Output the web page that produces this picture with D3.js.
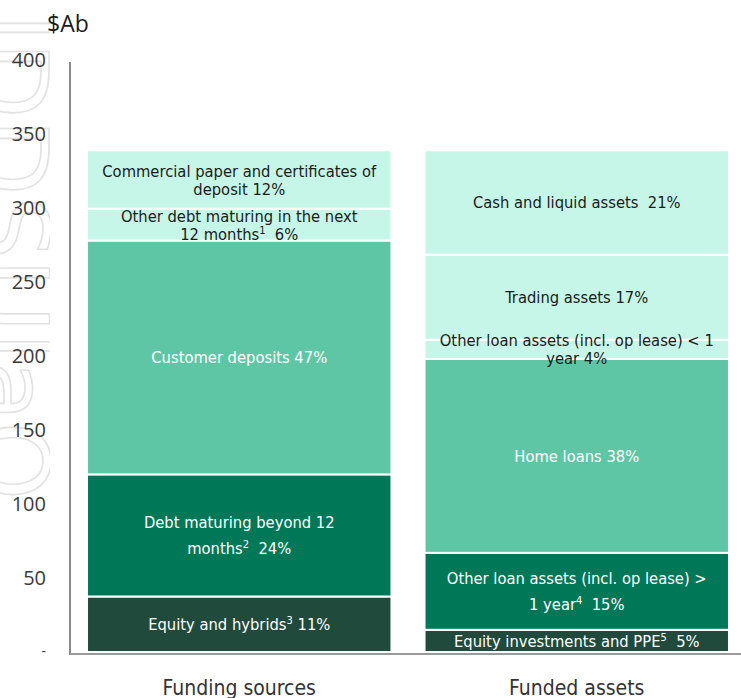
<!DOCTYPE html>
<html>
<head>
<meta charset="utf-8">
<script src="https://cdn.jsdelivr.net/npm/d3@7/dist/d3.min.js"></script>
<style>
  html, body { margin: 0; padding: 0; background: #fff; }
  svg { display: block; }
  .tick-label { font-family: "Open Sans", "DejaVu Sans", sans-serif; font-size: 20px; fill: #3a3a3a; }
  .seg-label { font-family: "DejaVu Sans Condensed", "Liberation Sans Narrow", sans-serif; font-size: 16.4px; white-space: pre; }
  .cat-label { font-family: "DejaVu Sans Condensed", "Liberation Sans Narrow", sans-serif; font-size: 21px; fill: #333; }
</style>
</head>
<body>
<svg id="chart" width="741" height="698"></svg>
<script>
// Stacked funding vs funded assets, $A billions
var categories = ['Funding sources', 'Funded assets'];

// bottom to top
var fundingValues = [37.5, 82.5, 158, 21.5, 39.5];
var fundingTier = [3, 2, 1, 0, 0];
var fundingLabels = [
  ['Equity and hybrids^3 11%'],
  ['Debt maturing beyond 12', 'months^2  24%'],
  ['Customer deposits 47%'],
  ['Other debt maturing in the next', '12 months^1  6%'],
  ['Commercial paper and certificates of', 'deposit 12%']
];

var assetValues = [15, 52, 131, 13, 57.5, 70.5];
var assetTier = [3, 2, 1, 0, 0, 0];
var assetLabels = [
  ['Equity investments and PPE^5  5%'],
  ['Other loan assets (incl. op lease) >', '1 year^4  15%'],
  ['Home loans 38%'],
  ['Other loan assets (incl. op lease) < 1', 'year 4%'],
  ['Trading assets 17%'],
  ['Cash and liquid assets  21%']
];

var yTicks = [50, 100, 150, 200, 250, 300, 350, 400];

(function () {
  'use strict';

  var svg = d3.select('#chart');
  var W = 741, H = 698;

  var tierColor = ['#c6f6e7', '#5fc6a5', '#007757', '#1f4a3c'];
  var tierText = ['#1b1b1b', '#ffffff', '#ffffff', '#ffffff'];

  var x = d3.scaleBand().domain(categories).range([72, 744])
    .paddingInner(0.098).paddingOuter(0.0445);
  var y = d3.scaleLinear().domain([0, 400]).range([652, 60]);

  // faint outlined watermark on the left edge
  var clip = svg.append('defs').append('clipPath').attr('id', 'wm-clip');
  clip.append('rect').attr('x', 0).attr('y', 0).attr('width', 50).attr('height', H);
  svg.append('g').attr('clip-path', 'url(#wm-clip)')
    .append('text')
    .attr('transform', 'translate(-24,14) rotate(90)')
    .style('font-family', '"DejaVu Sans", sans-serif')
    .style('font-size', '100px')
    .attr('fill', 'none').attr('stroke', '#e2e2e2').attr('stroke-width', 1.6)
    .text('lDDSUlaO');

  function build(values, tiers, labels, cat) {
    var acc = 0;
    return values.map(function (v, i) {
      var d = { cat: cat, y0: acc, y1: acc + v, tier: tiers[i], lines: labels[i] };
      acc += v;
      return d;
    });
  }
  var segs = build(fundingValues, fundingTier, fundingLabels, categories[0])
    .concat(build(assetValues, assetTier, assetLabels, categories[1]));

  // bars
  svg.append('g').selectAll('rect')
    .data(segs).enter().append('rect')
    .attr('x', function (d) { return x(d.cat); })
    .attr('width', x.bandwidth())
    .attr('y', function (d) { return y(d.y1); })
    .attr('height', function (d) { return y(d.y0) - y(d.y1); })
    .attr('fill', function (d) { return tierColor[d.tier]; })
    .attr('stroke', '#fff').attr('stroke-width', 2);

  // segment labels
  var lab = svg.append('g').selectAll('text')
    .data(segs).enter().append('text')
    .attr('class', 'seg-label')
    .attr('text-anchor', 'middle')
    .attr('fill', function (d) { return tierText[d.tier]; });

  lab.each(function (d) {
    var t = d3.select(this);
    var lh = d.tier === 0 ? 18 : 26;
    var cx = x(d.cat) + x.bandwidth() / 2;
    var cy = (y(d.y0) + y(d.y1)) / 2;
    var top = cy - (d.lines.length - 1) * lh / 2;
    d.lines.forEach(function (line, i) {
      var parts = line.split(/\^(\d)/);
      var base = t.append('tspan').attr('x', cx).attr('y', top + i * lh + 6);
      base.text(parts[0]);
      for (var k = 1; k < parts.length; k += 2) {
        t.append('tspan').attr('dy', -6).style('font-size', '11px').text(parts[k]);
        t.append('tspan').attr('dy', 6).text(parts[k + 1]);
      }
    });
  });

  // y axis
  var yAxis = svg.append('g');
  yAxis.append('line')
    .attr('x1', 70).attr('x2', 70).attr('y1', 62).attr('y2', 655)
    .attr('stroke', '#8a8a8a').attr('stroke-width', 2);
  yAxis.selectAll('text.tick-label')
    .data(yTicks).enter().append('text')
    .attr('class', 'tick-label')
    .attr('x', 46).attr('y', function (d) { return y(d); })
    .attr('dy', '0.35em').attr('text-anchor', 'end')
    .text(function (d) { return d; });
  yAxis.append('text').attr('class', 'tick-label')
    .attr('x', 46).attr('y', y(0)).attr('dy', '0.3em').attr('text-anchor', 'end')
    .style('font-size', '14px').text('-');
  svg.append('text').attr('class', 'tick-label')
    .attr('x', 47).attr('y', 32).style('font-size', '23px').style('fill', '#1b1b1b')
    .text('$Ab');

  // baseline
  svg.append('line')
    .attr('x1', 70).attr('x2', W).attr('y1', 654).attr('y2', 654)
    .attr('stroke', '#9a9a9a').attr('stroke-width', 2);

  // category labels
  svg.append('g').selectAll('text')
    .data(categories).enter().append('text')
    .attr('class', 'cat-label')
    .attr('text-anchor', 'middle')
    .attr('x', function (d) { return x(d) + x.bandwidth() / 2; })
    .attr('y', 695)
    .text(function (d) { return d; });
})();
</script>
</body>
</html>
